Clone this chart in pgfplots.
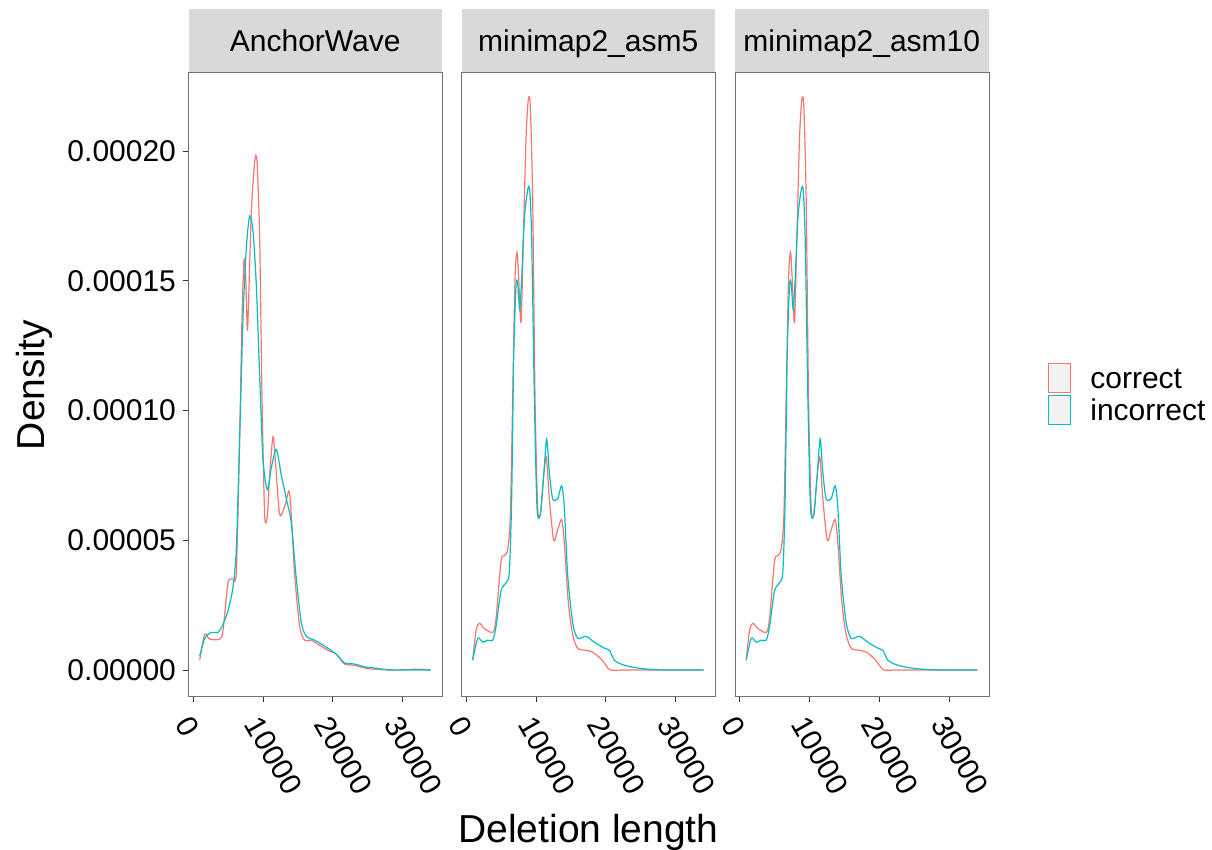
\documentclass[border=0pt]{standalone}
\usepackage{fontspec}
\setmainfont{Liberation Sans}
\usepackage{pgfplots}
\usepackage{pgfplotstable}
\pgfplotsset{compat=1.18}
\definecolor{gcor}{HTML}{F8766D}
\definecolor{ginc}{HTML}{00BFC4}
\definecolor{stripfill}{HTML}{D9D9D9}
\definecolor{keyfill}{HTML}{F2F2F2}
\newcommand{\tickfont}{\fontsize{15}{18}\selectfont}
\newcommand{\titlefont}{\fontsize{19.5}{23}\selectfont}

\pgfplotstableread{
x y
952 3.8e-6
1667 1.37e-5
2381 1.19e-5
3810 1.19e-5
4286 1.53e-5
5000 3.36e-5
5714 3.51e-5
6190 3.8e-5
6667 9.0e-5
7000 1.36e-4
7286 1.58e-4
7524 1.51e-4
7762 1.31e-4
7952 1.43e-4
8333 1.77e-4
8810 1.96e-4
9143 1.96e-4
9524 1.66e-4
9857 1.05e-4
10238 5.95e-5
10619 5.95e-5
10952 7.5e-5
11430 9.0e-5
11810 7.9e-5
12380 6.0e-5
13095 6.3e-5
13714 6.9e-5
14048 5.95e-5
14524 3.66e-5
15238 1.68e-5
15952 1.15e-5
16905 1.15e-5
17857 9.9e-6
19286 7.6e-6
20476 6.1e-6
21667 2.3e-6
23095 1.8e-6
24524 7.6e-7
25952 3e-7
28333 0
32143 3e-7
33952 0
}\awcor

\pgfplotstableread{
x y
952 5.3e-6
1667 1.22e-5
2619 1.45e-5
3571 1.45e-5
4286 1.76e-5
5000 2.29e-5
5714 3.2e-5
6190 4.7e-5
6667 9.0e-5
7143 1.36e-4
7619 1.63e-4
8095 1.75e-4
8571 1.69e-4
9048 1.48e-4
9524 1.13e-4
10000 8.1e-5
10619 6.95e-5
11190 7.8e-5
11905 8.5e-5
12619 7.5e-5
13333 6.6e-5
14048 5.65e-5
14762 3.5e-5
15476 1.83e-5
16190 1.3e-5
17381 1.15e-5
18810 9.2e-6
20476 6.1e-6
21667 2.7e-6
23095 2.3e-6
24524 1.2e-6
25952 7.6e-7
28333 0
31190 0
33952 0
}\awinc

\pgfplotstableread{
x y
952 3.8e-6
1430 1.53e-5
1905 1.8e-5
2619 1.6e-5
3810 1.45e-5
4286 1.98e-5
5000 4.2e-5
5476 4.4e-5
5952 4.66e-5
6333 5.95e-5
6667 1.05e-4
7000 1.51e-4
7286 1.61e-4
7524 1.51e-4
7857 1.34e-4
8190 1.66e-4
8571 2.05e-4
8905 2.20e-4
9190 2.17e-4
9524 1.81e-4
9857 1.05e-4
10238 6.25e-5
10619 6.0e-5
11095 7.5e-5
11476 8.2e-5
11905 6.6e-5
12524 5.0e-5
13095 5.4e-5
13667 5.8e-5
14048 4.9e-5
14619 2.6e-5
15238 1.37e-5
15952 8.4e-6
17143 7.6e-6
18095 6.9e-6
19286 4.3e-6
20000 1.8e-6
20619 0
22619 0
27381 0
33952 0
}\asmcor

\pgfplotstableread{
x y
952 3.8e-6
1667 1.22e-5
2381 1.07e-5
3095 1.15e-5
3810 1.15e-5
4286 1.68e-5
5000 3.05e-5
5714 3.36e-5
6190 3.8e-5
6524 6.7e-5
6810 1.21e-4
7143 1.48e-4
7381 1.49e-4
7667 1.39e-4
7952 1.51e-4
8333 1.74e-4
8810 1.85e-4
9095 1.85e-4
9381 1.66e-4
9762 1.05e-4
10143 6.25e-5
10619 6.0e-5
11095 7.5e-5
11524 8.9e-5
11905 7.6e-5
12381 6.6e-5
13095 6.6e-5
13667 7.1e-5
14048 6.25e-5
14524 3.66e-5
15238 1.83e-5
15952 1.22e-5
17143 1.3e-5
18333 1.07e-5
19762 8.4e-6
20476 7.6e-6
21190 3.8e-6
22143 2.3e-6
23571 1.2e-6
25476 4.6e-7
28333 0
33952 0
}\asminc

\pgfplotsset{
  panel/.style={
    scale only axis, width=127pt, height=312pt, anchor=south west,
    xmin=-650, xmax=35650, ymin=-0.0000104, ymax=0.0002301,
    xtick={0,10000,20000,30000}, xticklabels={0,10000,20000,30000},
    xtick pos=bottom, ytick pos=left,
    scaled ticks=false,
    tick align=outside, major tick length=2.75pt,
    every tick/.style={black!80, line width=0.5pt},
    axis line style={black!55, line width=0.5pt},
    xticklabel style={yshift=-4pt, rotate=-60, anchor=north west, font=\tickfont, inner sep=1pt},
    yticklabel style={font=\tickfont},
    every axis plot/.append style={line width=0.6pt, no markers, smooth, tension=0.45},
  },
}

\begin{document}
\begin{tikzpicture}
\begin{scope}[x=0.5pt,y=0.5pt]
\useasboundingbox (0,0) rectangle (1212,850);
% strips
\fill[stripfill] (188.5,778) rectangle (442,841);
\fill[stripfill] (461.5,778) rectangle (715,841);
\fill[stripfill] (735,778) rectangle (988.5,841);
\node[anchor=base, font=\tickfont] at (315.25,798) {AnchorWave};
\node[anchor=base, font=\tickfont] at (588.25,798) {minimap2\_asm5};
\node[anchor=base, font=\tickfont] at (861.75,798) {minimap2\_asm10};
% axis titles
\node[anchor=base, font=\titlefont] at (588.5,7) {Deletion length};
\node[anchor=base, rotate=90, font=\titlefont] at (45,465) {Density};
% legend
\draw[gcor, fill=keyfill, line width=0.5pt] (1048,457) rectangle (1070,486);
\draw[ginc, fill=keyfill, line width=0.5pt] (1048,425) rectangle (1070,454);
\node[anchor=base west, font=\tickfont, inner sep=0pt] at (1090,461) {correct};
\node[anchor=base west, font=\tickfont, inner sep=0pt] at (1090,429) {incorrect};
\end{scope}

\begin{axis}[panel, at={(94.25pt,76.5pt)},
  ytick={0,0.00005,0.0001,0.00015,0.0002},
  yticklabels={0.00000,0.00005,0.00010,0.00015,0.00020}]
\addplot[gcor] table[x=x,y=y] {\awcor};
\addplot[ginc] table[x=x,y=y] {\awinc};
\end{axis}

\begin{axis}[panel, at={(230.75pt,76.5pt)}, ytick=\empty]
\addplot[gcor] table[x=x,y=y] {\asmcor};
\addplot[ginc] table[x=x,y=y] {\asminc};
\end{axis}

\begin{axis}[panel, at={(367.5pt,76.5pt)}, ytick=\empty]
\addplot[gcor] table[x=x,y=y] {\asmcor};
\addplot[ginc] table[x=x,y=y] {\asminc};
\end{axis}
\end{tikzpicture}
\end{document}
